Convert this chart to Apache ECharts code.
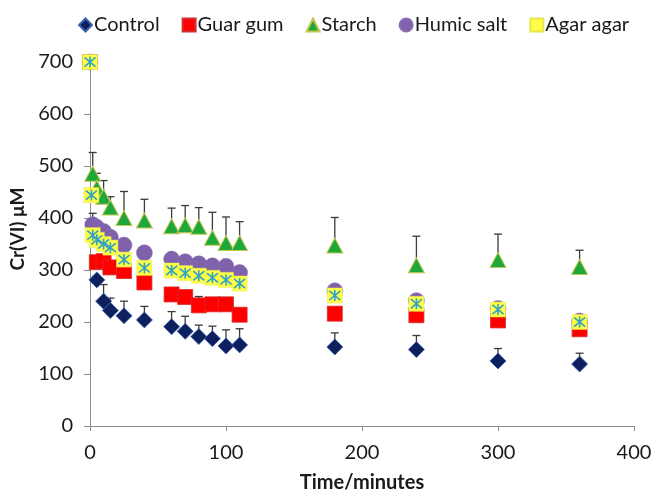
<!DOCTYPE html>
<html>
<head>
<meta charset="utf-8">
<script src="https://cdn.jsdelivr.net/npm/echarts@6/dist/echarts.min.js"></script>
<style>html,body{margin:0;padding:0;background:#fff;}#c{width:654px;height:494px;}</style>
</head>
<body>
<div id="c"></div>
<script>
// Time points (minutes)
const times = [0, 1, 2, 5, 10, 15, 25, 40, 60, 70, 80, 90, 100, 110, 180, 240, 300, 360];
// Cr(VI) µM per treatment (null = not shown)
const control   = [700, null, null, 281, 240, 222, 212, 204, 191, 182, 172, 168, 154, 156, 152, 147, 125, 119];
const guarGum   = [700, null, null, 315, 317, 305, 298, 276, 253, 248, 232, 234, 234, 214, 216, 213, 203, 186];
const starch    = [700, null, 485, 458, 441, 420, 400, 395, 384, 386, 383, 362, 352, 352, 347, 309, 319, 306];
const humicSalt = [700, null, 387, 382, 374, 363, 348, 333, 321, 316, 312, 308, 307, 295, 260, 241, 226, 202];
const agarAgar  = [700, 444, 367, 358, 350, 343, 320, 304, 299, 294, 289, 285, 281, 274, 251, 235, 224, 200];
// Upper error bar magnitudes
const controlErr = [null, null, null, null, 32, 24, 28, 26, 29, 29, 22, 24, 31, 31, 27, 27, 24, 21];
const guarErr    = [null, null, null, null, null, null, null, null, null, null, 17, null, null, null, null, null, null, null];
const starchErr  = [null, null, 41, 28, 31, 21, 51, 41, 35, 38, 37, 49, 50, 41, 54, 56, 50, 32];
const humicErr   = [null, null, 22, null, null, null, null, null, null, null, null, null, null, null, null, null, null, null];
const agarErr    = [null, null, null, null, null, null, null, 12, null, null, null, null, null, null, null, null, null, null];
// Axis ticks
const xTicks = [0, 100, 200, 300, 400];
const yTicks = [0, 100, 200, 300, 400, 500, 600, 700];
const seriesNames = ['Control', 'Guar gum', 'Starch', 'Humic salt', 'Agar agar'];

function pts(vals) {
  const out = [];
  times.forEach((t, i) => { if (vals[i] !== null) out.push([t, vals[i]]); });
  return out;
}
function errPts(vals, errs) {
  const out = [];
  times.forEach((t, i) => { if (vals[i] !== null && errs[i] !== null) out.push([t, vals[i], errs[i]]); });
  return out;
}
const allErr = [].concat(
  errPts(control, controlErr), errPts(guarGum, guarErr), errPts(starch, starchErr),
  errPts(humicSalt, humicErr), errPts(agarAgar, agarErr));

const FONT = 'Lato';
const chart = echarts.init(document.getElementById('c'), null, {renderer: 'canvas'});
const starPath = 'path://M0,0L10,10M10,0L0,10M5,-1L5,11';

chart.setOption({
  animation: false,
  backgroundColor: '#fff',
  textStyle: {fontFamily: FONT},
  grid: {left: 90, right: 20, top: 62, bottom: 68, containLabel: false, outerBoundsMode: 'none'},
  legend: {
    top: 10, left: 73,
    itemGap: 22, itemWidth: 13, itemHeight: 13,
    textStyle: {fontFamily: FONT, fontSize: 20, color: '#1a1a1a', padding: [0, 0, 0, -3]},
    data: [
      {name: seriesNames[0], icon: 'diamond', itemStyle: {color: '#0d1f5c'}},
      {name: seriesNames[1], icon: 'rect', itemStyle: {color: '#ff0000'}},
      {name: seriesNames[2], icon: 'triangle', itemStyle: {color: '#1ea83c'}},
      {name: seriesNames[3], icon: 'circle', itemStyle: {color: '#7f62ab'}},
      {name: seriesNames[4], icon: 'rect', itemStyle: {color: '#ffff44'}}
    ]
  },
  xAxis: {
    type: 'value', min: 0, max: 400, interval: 100,
    name: 'Time/minutes', nameLocation: 'middle', nameGap: 47,
    nameTextStyle: {fontFamily: FONT, fontSize: 20, fontWeight: 'bold', color: '#1a1a1a'},
    axisLine: {show: true, onZero: false, lineStyle: {color: '#8c8c8c', width: 1}},
    axisTick: {show: true, length: 5, lineStyle: {color: '#8c8c8c'}},
    axisLabel: {fontFamily: FONT, fontSize: 20, color: '#1a1a1a', margin: 17,
      formatter: v => xTicks.includes(v) ? String(v) : ''},
    splitLine: {show: false}
  },
  yAxis: {
    type: 'value', min: 0, max: 700, interval: 100,
    name: 'Cr(VI) μM', nameLocation: 'middle', nameGap: 52,
    nameTextStyle: {fontFamily: FONT, fontSize: 19, fontWeight: 'bold', color: '#1a1a1a', padding: [0, 0, 0, 30]},
    axisLine: {show: true, lineStyle: {color: '#8c8c8c', width: 1}},
    axisTick: {show: true, length: 6, lineStyle: {color: '#8c8c8c'}},
    axisLabel: {fontFamily: FONT, fontSize: 20, color: '#1a1a1a', margin: 17,
      formatter: v => yTicks.includes(v) ? String(v) : ''},
    splitLine: {show: false}
  },
  series: [
    {
      type: 'custom', name: 'errbars', z: 1, silent: true,
      encode: {x: 0, y: 1},
      data: allErr,
      renderItem: function (params, api) {
        const p0 = api.coord([api.value(0), api.value(1)]);
        const p1 = api.coord([api.value(0), api.value(1) + api.value(2)]);
        const hw = 4;
        return {
          type: 'group',
          children: [
            {type: 'line', shape: {x1: p0[0], y1: p0[1], x2: p1[0], y2: p1[1]}, style: {stroke: '#3a3a3a', lineWidth: 1.3}},
            {type: 'line', shape: {x1: p1[0] - hw, y1: p1[1], x2: p1[0] + hw, y2: p1[1]}, style: {stroke: '#3a3a3a', lineWidth: 1.3}}
          ]
        };
      }
    },
    {name: seriesNames[0], type: 'scatter', z: 2, symbol: 'diamond', symbolSize: 16, data: pts(control),
      itemStyle: {color: '#0d1f5c', borderColor: '#3b62b0', borderWidth: 0.8, opacity: 1}},
    {name: seriesNames[1], type: 'scatter', z: 3, symbol: 'rect', symbolSize: 15, data: pts(guarGum),
      itemStyle: {color: '#ff0000', borderColor: '#d03030', borderWidth: 0.8, opacity: 1}},
    {name: seriesNames[2], type: 'scatter', z: 4, symbol: 'triangle', symbolSize: [16, 15], data: pts(starch),
      itemStyle: {color: '#1ea83c', borderColor: '#c4c850', borderWidth: 1, opacity: 1}},
    {name: seriesNames[3], type: 'scatter', z: 5, symbol: 'circle', symbolSize: 16, data: pts(humicSalt),
      itemStyle: {color: '#7f62ab', borderColor: '#8a6eb5', borderWidth: 0.5, opacity: 1}},
    {name: seriesNames[4], type: 'scatter', z: 6, symbol: 'rect', symbolSize: 15, data: pts(agarAgar),
      itemStyle: {color: '#ffff44', borderColor: '#e6e650', borderWidth: 0.5, opacity: 1}},
    {name: 'Agar agar star', type: 'scatter', z: 7, symbol: starPath, symbolSize: 11, data: pts(agarAgar),
      itemStyle: {color: 'rgba(0,0,0,0)', borderColor: '#2fa3c6', borderWidth: 1.6, opacity: 1}}
  ]
});
</script>
</body>
</html>
